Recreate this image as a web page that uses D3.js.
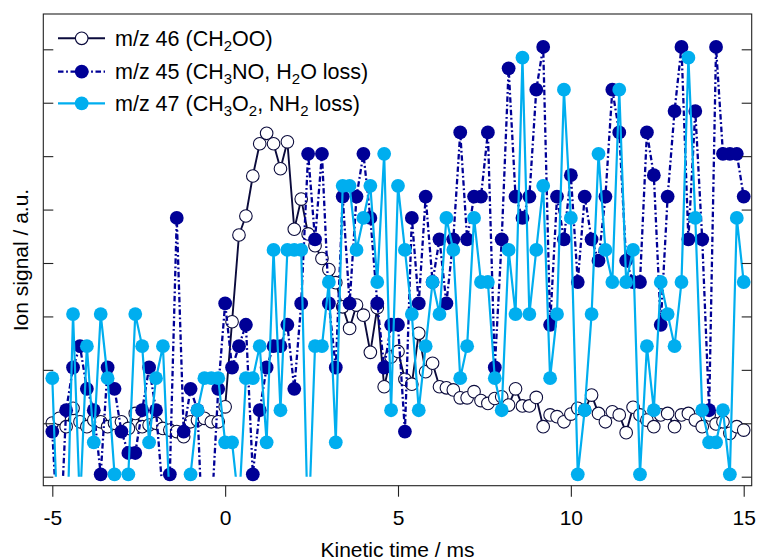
<!DOCTYPE html>
<html>
<head>
<meta charset="utf-8">
<script src="https://cdn.jsdelivr.net/npm/d3@7"></script>
<style>
  body { margin: 0; background: #fff; }
  svg text { font-family: "Liberation Sans", Arial, sans-serif; fill: #000; }
</style>
</head>
<body>
<svg id="chart"></svg>
<script>
// kinetic time (ms) of every sample
const timeMs = [
  -5.0, -4.8, -4.6, -4.4, -4.2, -4.0, -3.8, -3.6, -3.4, -3.2,
  -3.0, -2.8, -2.6, -2.4, -2.2, -2.0, -1.8, -1.6, -1.4, -1.2,
  -1.0, -0.8, -0.6, -0.4, -0.2, 0.0, 0.2, 0.4, 0.6, 0.8,
  1.0, 1.2, 1.4, 1.6, 1.8, 2.0, 2.2, 2.4, 2.6, 2.8,
  3.0, 3.2, 3.4, 3.6, 3.8, 4.0, 4.2, 4.4, 4.6, 4.8,
  5.0, 5.2, 5.4, 5.6, 5.8, 6.0, 6.2, 6.4, 6.6, 6.8,
  7.0, 7.2, 7.4, 7.6, 7.8, 8.0, 8.2, 8.4, 8.6, 8.8,
  9.0, 9.2, 9.4, 9.6, 9.8, 10.0, 10.2, 10.4, 10.6, 10.8,
  11.0, 11.2, 11.4, 11.6, 11.8, 12.0, 12.2, 12.4, 12.6, 12.8,
  13.0, 13.2, 13.4, 13.6, 13.8, 14.0, 14.2, 14.4, 14.6, 14.8,
  15.0
];

// m/z 46 (CH2OO)
const mz46 = [
  2.4, 2.62, 2.23, 3.09, 2.46, 2.23, 2.54, 2.46, 2.23, 2.39,
  2.46, 2.15, 2.85, 2.23, 2.31, 2.39, 2.15, 2.07, 2.0, 1.76,
  2.46, 2.54, 2.62, 2.46, 2.46, 3.16, 7.14, 11.2, 12.09, 13.96,
  15.47, 15.96, 15.47, 14.3, 15.56, 11.47, 12.88, 11.25, 10.7, 10.1,
  9.58, 8.97, 7.84, 6.83, 7.92, 7.45, 5.71, 7.8, 4.1, 5.5,
  5.75, 4.45, 4.22, 6.6, 4.8, 5.2, 4.1, 4.05, 3.95, 3.58,
  3.58, 3.87, 3.45, 3.32, 3.55, 3.63, 3.24, 4.0, 3.2, 3.2,
  3.6, 2.23, 2.78, 2.7, 2.46, 2.82, 3.09, 3.01, 3.71, 2.85,
  2.46, 2.93, 2.78, 1.95, 3.14, 2.78, 2.54, 2.23, 2.78, 2.85,
  2.23, 2.78, 2.85, 2.54, 2.23, 2.78, 2.36, 2.46, 1.92, 2.23,
  2.07
];

// m/z 45 (CH3NO, H2O loss)
const mz45 = [
  2, -4, 3, 5, 6, 4, 3, 0, 5, 4,
  2, 1, 1, 3, 5, 3, -1, 0, 12, 2,
  4, 3, -5, -2, 4, 8, 5, 6, 7, 0,
  3, 5, 6, 6, 7, 4, 8, 15, 11, 15,
  8, 5, 13, 8, 13, 15, 12, 8, 5, 7,
  7, 2, 12, 8, 13, 9, 11, 8, 11, 16,
  11, 13, 13, 16, 5, 11, 19, 13, 12, 13,
  18, 20, 7, 13, 11, 14, 9, 13, 11, 10,
  13, 18, 16, 10, 9, 9, 16, 14, 7, 13,
  17, 20, 11, 17, 11, 3, 20, 15, 15, 15,
  13
];

// m/z 47 (CH3O2, NH2 loss)
const mz47 = [
  4.5, -4.5, -4.5, 7.5, -1.5, 6, 1.5, 7.5, 4.5, 0,
  -1.5, 0, 7.5, 6, 1.5, 4.5, 6, -1.5, -3, -1.5,
  0, 3, 4.5, 4.5, 4.5, 1.5, 1.5, -1.5, 4.5, 4.5,
  6, 1.5, 10.5, 3, 10.5, 10.5, 10.5, -3, 6, 6,
  9, 1.5, 13.5, 13.5, 10.5, 12, 13.5, 9, 15, 3,
  13.5, 10.5, 7.5, 3, 6, 9, 7.5, 12, 10.5, 4.5,
  6, 12, 9, 9, 4.5, 3, 10.5, 7.5, 19.5, 7.5,
  10.5, 13.5, 4.5, 7.5, 18, 12, 0, 3, 7.5, 15,
  10.5, 9, 18, 9, 10.5, 0, 6, 3, 9, 7.5,
  6, 9, 19.5, 12, 3, 1.5, 1.5, 3, 0, 12,
  9
];

const xTicks = [-5, 0, 5, 10, 15];
const yTicks = [-0.11, 2.39, 4.89, 7.39, 9.89, 12.39, 14.89, 17.39, 19.89];
const xLabel = "Kinetic time / ms";
const yLabel = "Ion signal / a.u.";

// legend text, [text, subscript?]
const legendLabels = [
  [["m/z 46 (CH", false], ["2", true], ["OO)", false]],
  [["m/z 45 (CH", false], ["3", true], ["NO, H", false], ["2", true], ["O loss)", false]],
  [["m/z 47 (CH", false], ["3", true], ["O", false], ["2", true], [", NH", false], ["2", true], [" loss)", false]]
];

class IonSignalPlot {
    frame = { left: 43.3, right: 751.7, top: 14, bottom: 485.7 }

    constructor(svg, width = 758, height = 560) {
        this.svg = svg;
        this.width = width;
        this.height = height;
        this.series = [
            { values: mz46, line: "#0b0b3c", lineWidth: 1.9, dash: null, fill: "#ffffff", stroke: "#0b0b3c", r: 6.3 },
            { values: mz45, line: "#000096", lineWidth: 2.3, dash: "5.5,2.6,1.8,2.6", fill: "#000096", stroke: "none", r: 6.9 },
            { values: mz47, line: "#00aeef", lineWidth: 2.2, dash: null, fill: "#00aeef", stroke: "none", r: 6.9 }
        ];
    }

    initialize() {
        this.svg = d3.select(this.svg)
            .attr("width", this.width)
            .attr("height", this.height);

        this.xScale = d3.scaleLinear().domain([-5, 15]).range([52.3, 743.7]);
        this.yScale = d3.scaleLinear().domain([-0.11, 19.89]).range([476.7, 49.3]);

        const f = this.frame;
        this.svg.append("defs").append("clipPath").attr("id", "plotClip")
            .append("rect")
            .attr("x", f.left).attr("y", f.top)
            .attr("width", f.right - f.left)
            .attr("height", this.yScale(-0.11) - f.top);

        this.container = this.svg.append("g");
        this.axes = this.svg.append("g");
        this.legend = this.svg.append("g");
    }

    update() {
        this.drawTraces();
        this.drawAxes();
        this.drawLegend();
    }

    drawTraces() {
        const yMin = this.yScale.domain()[0];
        const line = d3.line()
            .x(d => this.xScale(d.t))
            .y(d => this.yScale(d.v));

        this.series.forEach(s => {
            const pts = timeMs.map((t, i) => ({ t: t, v: s.values[i] }));
            const g = this.container.append("g");
            g.append("path")
                .datum(pts)
                .attr("clip-path", "url(#plotClip)")
                .attr("fill", "none")
                .attr("stroke", s.line)
                .attr("stroke-width", s.lineWidth)
                .attr("stroke-dasharray", s.dash)
                .attr("stroke-linejoin", "round")
                .attr("d", line);
            g.selectAll("circle")
                .data(pts.filter(d => d.v >= yMin))
                .join("circle")
                .attr("cx", d => this.xScale(d.t))
                .attr("cy", d => this.yScale(d.v))
                .attr("r", s.r)
                .attr("fill", s.fill)
                .attr("stroke", s.stroke)
                .attr("stroke-width", 1.1);
        });
    }

    drawAxes() {
        const f = this.frame;
        this.axes.append("rect")
            .attr("x", f.left).attr("y", f.top)
            .attr("width", f.right - f.left)
            .attr("height", f.bottom - f.top)
            .attr("fill", "none")
            .attr("stroke", "#222")
            .attr("stroke-width", 1.1);

        const xAxis = this.axes.append("g")
            .attr("transform", `translate(0, ${f.bottom})`)
            .call(d3.axisBottom(this.xScale).tickValues(xTicks).tickSize(11).tickPadding(13.5));
        const yLeft = this.axes.append("g")
            .attr("transform", `translate(${f.left}, 0)`)
            .call(d3.axisLeft(this.yScale).tickValues(yTicks).tickSize(-10).tickFormat(""));
        const yRight = this.axes.append("g")
            .attr("transform", `translate(${f.right}, 0)`)
            .call(d3.axisRight(this.yScale).tickValues(yTicks).tickSize(-10).tickFormat(""));

        [xAxis, yLeft, yRight].forEach(a => {
            a.select(".domain").remove();
            a.selectAll(".tick line").attr("stroke", "#222").attr("stroke-width", 1.1);
        });
        xAxis.selectAll(".tick text")
            .attr("font-family", null)
            .attr("font-size", 21)
            .text(d => d < 0 ? "-" + Math.abs(d) : d);

        this.axes.append("text")
            .attr("x", (f.left + f.right) / 2)
            .attr("y", 557)
            .attr("text-anchor", "middle")
            .attr("font-size", 21)
            .text(xLabel);

        this.axes.append("text")
            .attr("transform", "translate(28, 260) rotate(-90)")
            .attr("text-anchor", "middle")
            .attr("font-size", 21)
            .text(yLabel);
    }

    drawLegend() {
        const rowY = [38.3, 71.7, 103.3];
        this.series.forEach((s, i) => {
            const row = this.legend.append("g").attr("transform", `translate(0, ${rowY[i]})`);
            row.append("line")
                .attr("x1", 58).attr("x2", 105)
                .attr("stroke", s.line)
                .attr("stroke-width", s.lineWidth)
                .attr("stroke-dasharray", s.dash);
            row.append("circle")
                .attr("cx", 81.7).attr("r", s.r)
                .attr("fill", s.fill)
                .attr("stroke", s.stroke)
                .attr("stroke-width", 1.1);
            const text = row.append("text")
                .attr("x", 115).attr("y", 7.5)
                .attr("font-size", 21.5);
            let shifted = false;
            legendLabels[i].forEach(([part, sub]) => {
                const ts = text.append("tspan").text(part);
                if (sub && !shifted) { ts.attr("dy", 5).attr("font-size", 15); shifted = true; }
                else if (sub) { ts.attr("font-size", 15); }
                else if (shifted) { ts.attr("dy", -5); shifted = false; }
            });
        });
    }
}

const plot = new IonSignalPlot(document.getElementById("chart"));
plot.initialize();
plot.update();
</script>
</body>
</html>
